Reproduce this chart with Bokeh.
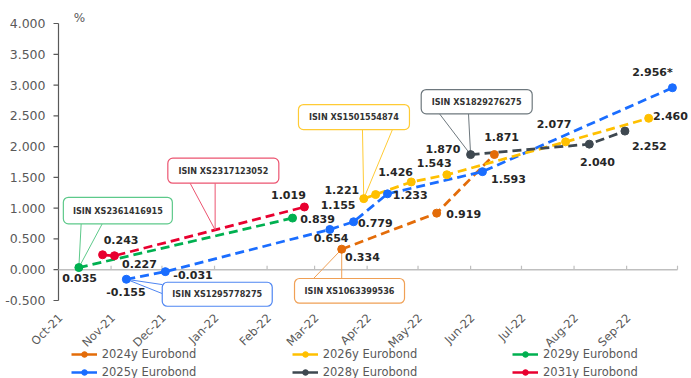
import numpy as np
from math import pi
from bokeh.plotting import figure
from bokeh.models import Range1d, Label, Legend, LegendItem, ColumnDataSource
from bokeh.core.properties import value
from bokeh.embed import file_html
from bokeh.resources import INLINE

# ---- data -----------------------------------------------------------------
month_starts = ["2021-10-01", "2021-11-01", "2021-12-01", "2022-01-01",
                "2022-02-01", "2022-03-01", "2022-04-01", "2022-05-01",
                "2022-06-01", "2022-07-01", "2022-08-01", "2022-09-01",
                "2022-10-01"]
month_labels = ["Oct-21", "Nov-21", "Dec-21", "Jan-22", "Feb-22", "Mar-22",
                "Apr-22", "May-22", "Jun-22", "Jul-22", "Aug-22", "Sep-22"]
y_ticks = [-0.5, 0.0, 0.5, 1.0, 1.5, 2.0, 2.5, 3.0, 3.5, 4.0]

dates_2024 = ["2022-03-17", "2022-05-12", "2022-06-15"]
yield_2024 = [0.334, 0.919, 1.871]

dates_2025 = ["2021-11-10", "2021-12-03", "2022-03-10", "2022-03-24",
              "2022-04-13", "2022-06-08", "2022-09-28"]
yield_2025 = [-0.155, -0.031, 0.654, 0.779, 1.233, 1.593, 2.956]
notes_2025 = ["", "", "", "", "", "", "*"]

dates_2026 = ["2022-03-30", "2022-04-06", "2022-04-27", "2022-05-18",
              "2022-07-27", "2022-09-14"]
yield_2026 = [1.155, 1.221, 1.426, 1.543, 2.077, 2.460]

dates_2028 = ["2022-06-01", "2022-08-10", "2022-08-31"]
yield_2028 = [1.870, 2.040, 2.252]

dates_2029 = ["2021-10-13", "2022-02-16"]
yield_2029 = [0.035, 0.839]

dates_2031 = ["2021-10-27", "2021-11-03", "2022-02-23"]
yield_2031 = [0.243, 0.227, 1.019]

isin_2024 = "ISIN XS1063399536"
isin_2025 = "ISIN XS1295778275"
isin_2026 = "ISIN XS1501554874"
isin_2028 = "ISIN XS1829276275"
isin_2029 = "ISIN XS2361416915"
isin_2031 = "ISIN XS2317123052"

# ---- layout ---------------------------------------------------------------
W, H = 691, 378
AX_LEFT = 58                          # x pixel of the value axis
AX_W, AX_TOP, AX_BOT = 619, 23, 300   # date axis length, rows of 4.0 / -0.5
Y_LO, Y_HI = y_ticks[0], y_ticks[-1]


def to_ms(dates):
    return np.array(dates, dtype="datetime64[ms]").astype("int64").astype(float)


months_ms = to_ms(month_starts)
MS_PER_PX = (months_ms[-1] - months_ms[0]) / AX_W
U_PER_PX = (Y_HI - Y_LO) / (AX_BOT - AX_TOP)


def px_x(px):
    return px * MS_PER_PX


def px_y(px):  # screen pixels (down positive) -> data units
    return -px * U_PER_PX


# the plotting frame covers the whole canvas, so the axes, labels, callouts
# and legend are all drawn inside it and nothing gets clipped
XA = months_ms[0]
X0 = XA - AX_LEFT * MS_PER_PX
X1 = XA + (W - AX_LEFT) * MS_PER_PX
Y1 = Y_HI + AX_TOP * U_PER_PX
Y0 = Y_LO - (H - AX_BOT) * U_PER_PX

GREY = "#595959"
FONT_NAME = "DejaVu Sans"
FONT = value(FONT_NAME)
CALLOUT_FONT = value("DejaVu Sans Condensed")

p = figure(frame_width=W, frame_height=H, x_axis_type="datetime",
           x_axis_location=None, y_axis_location=None, output_backend="svg",
           toolbar_location=None, tools="",
           x_range=Range1d(X0, X1), y_range=Range1d(Y0, Y1),
           min_border=0)
p.outline_line_color = None
p.grid.visible = False
p.background_fill_color = "white"
p.border_fill_color = "white"

# value axis: line, outward ticks, labels
p.segment(x0=[XA], y0=[Y_LO], x1=[XA], y1=[Y_HI], line_color=GREY,
          line_width=1.2)
p.segment(x0=XA + px_x(-5), y0=y_ticks, x1=XA, y1=y_ticks, line_color=GREY,
          line_width=1.2)
p.text(x=XA, y=y_ticks, text=[f"{t:.3f}" for t in y_ticks], x_offset=-13,
       text_align="right", text_baseline="middle", text_font=FONT,
       text_font_size="12.5px", text_color=GREY)

# zero line with month ticks on it
ZERO_C = "#BFBFBF"
p.segment(x0=[months_ms[0]], y0=[0], x1=[months_ms[-1]], y1=[0],
          line_color=ZERO_C, line_width=1.5)
p.segment(x0=months_ms[1:], y0=0, x1=months_ms[1:], y1=px_y(-4),
          line_color=ZERO_C, line_width=1.2)

# rotated month labels under the chart
p.text(x=months_ms[:-1], y=0, text=month_labels, angle=pi / 4,
       x_offset=2, y_offset=46, text_align="right", text_baseline="middle",
       text_font=FONT, text_font_size="11.5px", text_color=GREY)

p.add_layout(Label(x=79, y=H - 17, x_units="screen", y_units="screen",
                   text="%", text_align="center", text_baseline="middle",
                   text_font=FONT_NAME, text_font_size="12px",
                   text_color=GREY))

# ---- series ---------------------------------------------------------------
series = [
    dict(name="2024y Eurobond", d=dates_2024, v=yield_2024, c="#E36C09",
         off=[(20.7, 7.7), (27, 0.6), (7.2, -17.7)]),
    dict(name="2025y Eurobond", d=dates_2025, v=yield_2025, c="#1A6DFF",
         notes=notes_2025,
         off=[(-0.4, 12.4), (27.7, 3.3), (1.2, 8.5), (21.7, 1), (22.7, 1.3),
              (26, 7.6), (-20, -15.4)]),
    dict(name="2026y Eurobond", d=dates_2026, v=yield_2026, c="#FFC000",
         off=[(-25.7, 6.7), (-33.8, -5), (-15.7, -9.7), (-12.7, -11.4),
              (-11.5, -18), (21.8, -2.3)]),
    dict(name="2028y Eurobond", d=dates_2028, v=yield_2028, c="#3E4850",
         off=[(-27.7, -6), (8.2, 18.3), (24.4, 15.3)]),
    dict(name="2029y Eurobond", d=dates_2029, v=yield_2029, c="#00B050",
         off=[(0.7, 10.5), (25, 0.6)]),
    dict(name="2031y Eurobond", d=dates_2031, v=yield_2031, c="#E8002F",
         off=[(18.5, -15), (25, 8.5), (-16, -11.7)]),
]
by_name = {s["name"]: s for s in series}

for s in series:
    xs = to_ms(s["d"])
    notes = s.get("notes", [""] * len(xs))
    s["src"] = ColumnDataSource(dict(
        x=xs, y=s["v"],
        lab=[f"{v:.3f}{n}" for v, n in zip(s["v"], notes)],
        dx=[o[0] for o in s["off"]], dy=[o[1] for o in s["off"]]))
    p.line("x", "y", source=s["src"], line_color=s["c"], line_width=2.75,
           line_dash="9 5")

# ---- callouts -------------------------------------------------------------
def tip_of(name, i, j=None, t=0.0):
    src = by_name[name]["src"].data
    if j is None:
        return src["x"][i], src["y"][i]
    return (src["x"][i] + t * (src["x"][j] - src["x"][i]),
            src["y"][i] + t * (src["y"][j] - src["y"][i]))


callouts = [
    # text, tip, border colour, box centre offset, box size, pointer bases
    (isin_2029, tip_of("2029y Eurobond", 0), "#5DC98A", (39, -57), (109, 26.5),
     [(2.3, -43.6), (23.3, -43.6)]),
    (isin_2031, tip_of("2031y Eurobond", 1, 2, 0.53), "#EC5470", (8.2, -59.2),
     (111, 25), [(-25, -46.7), (0, -46.7)]),
    (isin_2025, tip_of("2025y Eurobond", 0), "#4F86F2", (90.9, 15), (110, 24),
     [(35.9, 5.3), (35.9, 14.3)]),
    (isin_2024, tip_of("2024y Eurobond", 0), "#F0A055", (7.8, 41.7), (110, 24.7),
     [(-28.2, 29.4), (0, 29.4)]),
    (isin_2026, tip_of("2026y Eurobond", 0), "#FFCB35", (-9.8, -81.6), (111, 25),
     [(-1.3, -69.1), (28.7, -69.1)]),
    (isin_2028, tip_of("2028y Eurobond", 0), "#6E787E", (6.1, -52.9), (111, 24.3),
     [(-31.1, -40.8), (-2.1, -40.8)]),
]

for text, (tx, ty), col, (ox, oy), (w, h), bases in callouts:
    p.segment(x0=[tx + px_x(b[0]) for b in bases],
              y0=[ty + px_y(b[1]) for b in bases],
              x1=[tx, tx], y1=[ty, ty], line_color=col, line_width=1)
    cx, cy = tx + px_x(ox), ty + px_y(oy)
    p.rect(x=[cx], y=[cy], width=w, height=h, width_units="screen",
           height_units="screen", fill_color="white", line_color=col,
           line_width=1.2, border_radius=5)
    p.text(x=[cx], y=[cy], text=[text], text_align="center",
           text_baseline="middle", text_font=CALLOUT_FONT,
           text_font_style="bold", text_font_size="9px", text_color="#333333")

# markers and value labels on top
for s in series:
    p.scatter("x", "y", source=s["src"], size=8, fill_color=s["c"],
              line_color=s["c"])
    p.text("x", "y", text="lab", x_offset="dx", y_offset="dy", source=s["src"],
           text_align="center", text_baseline="middle", text_font=FONT,
           text_font_style="bold", text_font_size="11px", text_color="#262626")

# ---- legend: three columns of two ----------------------------------------
columns = [["2024y Eurobond", "2025y Eurobond"],
           ["2026y Eurobond", "2028y Eurobond"],
           ["2029y Eurobond", "2031y Eurobond"]]
col_x = [70.7, 291.7, 512]
for names, lx in zip(columns, col_x):
    items = []
    for n in names:
        c = by_name[n]["c"]
        # swatch renderers: one point outside the visible ranges
        lr = p.line(x=[X0 - 1e10], y=[Y0 - 10], line_color=c, line_width=2.5)
        mr = p.scatter(x=[X0 - 1e10], y=[Y0 - 10], size=7, fill_color=c,
                       line_color=c)
        items.append(LegendItem(label=n, renderers=[lr, mr]))
    leg = Legend(items=items, location=(lx, -1), orientation="vertical",
                 padding=0, margin=0, spacing=4, glyph_width=26,
                 glyph_height=14, label_height=14, label_standoff=5,
                 label_text_font=FONT_NAME, label_text_font_size="11.5px",
                 label_text_color=GREY, border_line_alpha=0,
                 background_fill_alpha=0)
    p.add_layout(leg, "center")

open("out.html", "w").write(file_html(p, INLINE))
